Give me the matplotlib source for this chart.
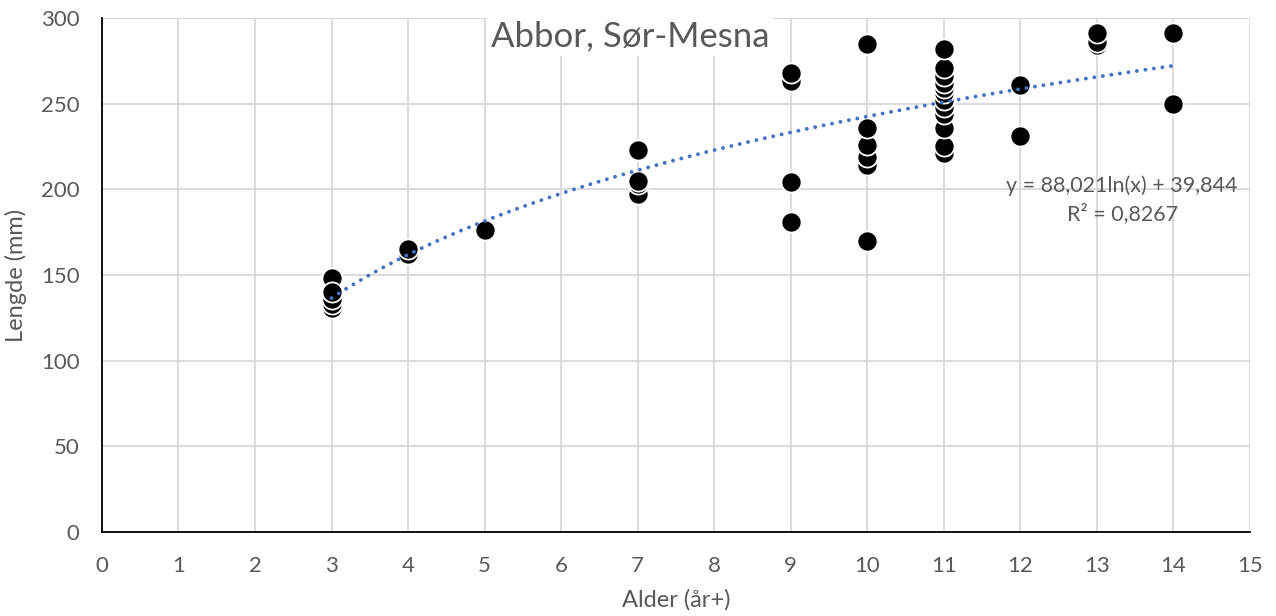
import numpy as np
import matplotlib.pyplot as plt

plt.rcParams['font.family'] = ['Lato', 'DejaVu Sans']

# alder (år+) og lengde (mm), lest av figuren
alder = [3, 3, 3, 3, 3,
         4, 4,
         5,
         7, 7, 7, 7,
         9, 9, 9, 9,
         10, 10, 10, 10, 10, 10,
         11, 11, 11, 11, 11, 11, 11, 11, 11, 11, 11, 11,
         12, 12,
         13, 13, 13,
         14, 14]
lengde = [131, 133, 136, 148, 140,
          162, 165,
          176,
          197, 203, 205, 223,
          181, 204, 263, 268,
          170, 214, 219, 226, 236, 285,
          221, 225, 236, 244, 248, 252, 256, 259, 262, 266, 271, 282,
          231, 261,
          284, 286, 291,
          250, 291]

# logaritmisk trendlinje fra Excel
a_coef, b_coef = 88.021, 39.844
trend_x = np.linspace(3, 14, 200)
trend_y = a_coef * np.log(trend_x) + b_coef

grey = '#595959'
fig = plt.figure(figsize=(12.76, 6.16), dpi=100)
ax = fig.add_axes([0.0799, 0.1364, 0.8997, 0.8344])

ax.scatter(alder, lengde, s=210, color='black', edgecolors='white',
           linewidths=1.3, zorder=3)
ax.plot(trend_x, trend_y, color='#4472C4', lw=2.8, ls=(0, (0.01, 2.2)),
        dash_capstyle='round', zorder=4)

ax.set_xlim(0, 15)
ax.set_ylim(0, 300)
ax.set_xticks(range(0, 16))
ax.set_yticks(range(0, 301, 50))
ax.grid(True, color='#D9D9D9', lw=1.3)
ax.set_axisbelow(True)
for s in ['top', 'right']:
    ax.spines[s].set_visible(False)
for s in ['left', 'bottom']:
    ax.spines[s].set_color('black')
    ax.spines[s].set_linewidth(1.3)
ax.tick_params(length=0, labelsize=16, colors=grey)
ax.tick_params(axis='x', pad=17)
ax.tick_params(axis='y', pad=16)

ax.set_xlabel('Alder (år+)', fontsize=17, color=grey, labelpad=10)
ax.set_ylabel('Lengde (mm)', fontsize=17, color=grey, labelpad=10)

fig.text(630 / 1276, 1 - 36 / 616, 'Abbor, Sør-Mesna', fontsize=25, color=grey,
         ha='center', va='center',
         bbox=dict(facecolor='white', edgecolor='none', pad=3))

ax.text(13.33, 194, 'y = 88,021ln(x) + 39,844\nR² = 0,8267', fontsize=15.5,
        color=grey, ha='center', va='center', linespacing=1.45)

fig.savefig('out.png', dpi=100)
